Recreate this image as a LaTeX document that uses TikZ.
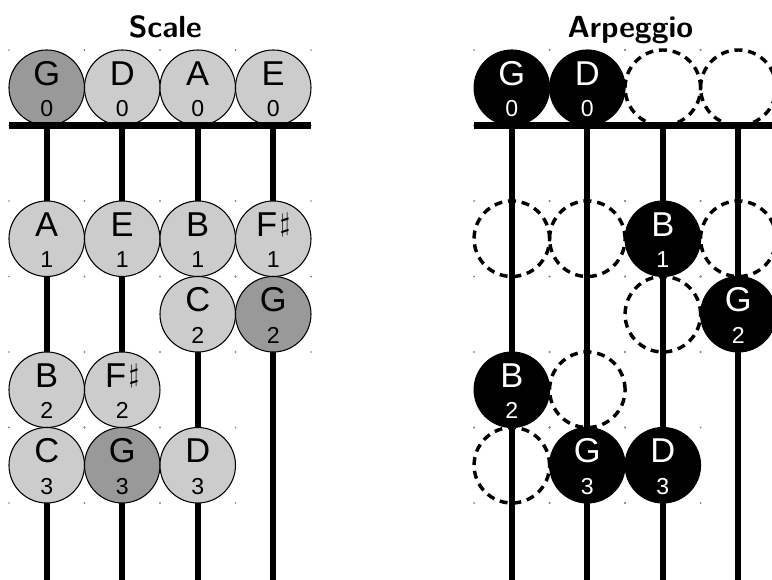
\documentclass[tikz,border=0pt]{standalone}
\usepackage{fontspec}
\newfontfamily\notefont{Liberation Sans}
\newcommand\fnote[7]{%
  \fill[cornerdot] ({#2-0.5},{#3-0.5}) circle (0.35pt) ({#2+0.5},{#3-0.5}) circle (0.35pt)
                   ({#2-0.5},{#3+0.5}) circle (0.35pt) ({#2+0.5},{#3+0.5}) circle (0.35pt);
  \node[#4] (#1) at (#2,#3) {};
  \node[lettertxt, text=#7] (#1l) at ({#2},{#3-0.036}) {#5};
  \node[frettxt, text=#7] (#1f) at ({#2},{#3+0.383}) {#6};
}
\newcommand\fghost[3]{%
  \fill[cornerdot] ({#2-0.5},{#3-0.5}) circle (0.35pt) ({#2+0.5},{#3-0.5}) circle (0.35pt)
                   ({#2-0.5},{#3+0.5}) circle (0.35pt) ({#2+0.5},{#3+0.5}) circle (0.35pt);
  \node[ghost] (#1) at (#2,#3) {};
}
\newcommand\shp{\hspace{1pt}\raisebox{1.6pt}{\fontsize{10}{10}\selectfont$\sharp$}}
\begin{document}
\begin{tikzpicture}[x=1cm,y=-1cm,
  strg/.style={line width=2.3pt},
  nutline/.style={line width=2.3pt},
  cornerdot/.style={fill=black!50},
  fretnote/.style={circle, draw=black, line width=0.4pt, minimum size=1cm, inner sep=0pt, outer sep=0pt},
  light/.style={fretnote, fill=black!20},
  dark/.style={fretnote, fill=black!40},
  solidnote/.style={fretnote, fill=black},
  ghost/.style={circle, draw=black, line width=1.3pt, dash pattern=on 3pt off 2.2pt, minimum size=1cm, inner sep=0pt},
  lettertxt/.style={font=\notefont\fontsize{13}{13}\selectfont, inner sep=0pt, anchor=base},
  frettxt/.style={font=\notefont\fontsize{8.7}{9}\selectfont, inner sep=0pt, anchor=base},
  titletxt/.style={font=\sffamily\bfseries\fontsize{11.5}{12}\selectfont, inner sep=0pt, anchor=base}
]
\useasboundingbox (-0.119,-0.662) rectangle (10.106,7.007);
% titles
\node[titletxt] (t1) at (2.07,-0.16) {Scale};
\node[titletxt] (t2) at (8.23,-0.16) {Arpeggio};
% strings
\foreach \x in {0.5,1.5,2.5,3.5,6.66,7.66,8.66,9.66}
  \draw[strg] (\x,1) -- (\x,7.1);
% left: scale
\fnote{sG0}{0.5}{0.5}{dark}{G}{0}{black}
\fnote{sD0}{1.5}{0.5}{light}{D}{0}{black}
\fnote{sA0}{2.5}{0.5}{light}{A}{0}{black}
\fnote{sE0}{3.5}{0.5}{light}{E}{0}{black}
\fnote{sA1}{0.5}{2.5}{light}{A}{1}{black}
\fnote{sE1}{1.5}{2.5}{light}{E}{1}{black}
\fnote{sB1}{2.5}{2.5}{light}{B}{1}{black}
\fnote{sF1}{3.5}{2.5}{light}{F\shp}{1}{black}
\fnote{sC2}{2.5}{3.5}{light}{C}{2}{black}
\fnote{sG2}{3.5}{3.5}{dark}{G}{2}{black}
\fnote{sB2}{0.5}{4.5}{light}{B}{2}{black}
\fnote{sF2}{1.5}{4.5}{light}{F\shp}{2}{black}
\fnote{sC3}{0.5}{5.5}{light}{C}{3}{black}
\fnote{sG3}{1.5}{5.5}{dark}{G}{3}{black}
\fnote{sD3}{2.5}{5.5}{light}{D}{3}{black}
% right: arpeggio
\fnote{aG0}{6.66}{0.5}{solidnote}{G}{0}{white}
\fnote{aD0}{7.66}{0.5}{solidnote}{D}{0}{white}
\fghost{aX1}{8.66}{0.5}
\fghost{aX2}{9.66}{0.5}
\fghost{aX3}{6.66}{2.5}
\fghost{aX4}{7.66}{2.5}
\fnote{aB1}{8.66}{2.5}{solidnote}{B}{1}{white}
\fghost{aX5}{9.66}{2.5}
\fghost{aX6}{8.66}{3.5}
\fnote{aG2}{9.66}{3.5}{solidnote}{G}{2}{white}
\fnote{aB2}{6.66}{4.5}{solidnote}{B}{2}{white}
\fghost{aX7}{7.66}{4.5}
\fghost{aX8}{6.66}{5.5}
\fnote{aG3}{7.66}{5.5}{solidnote}{G}{3}{white}
\fnote{aD3}{8.66}{5.5}{solidnote}{D}{3}{white}
% nuts
\draw[nutline] (0,1) -- (4,1);
\draw[nutline] (6.16,1) -- (10.3,1);
\end{tikzpicture}
\end{document}
